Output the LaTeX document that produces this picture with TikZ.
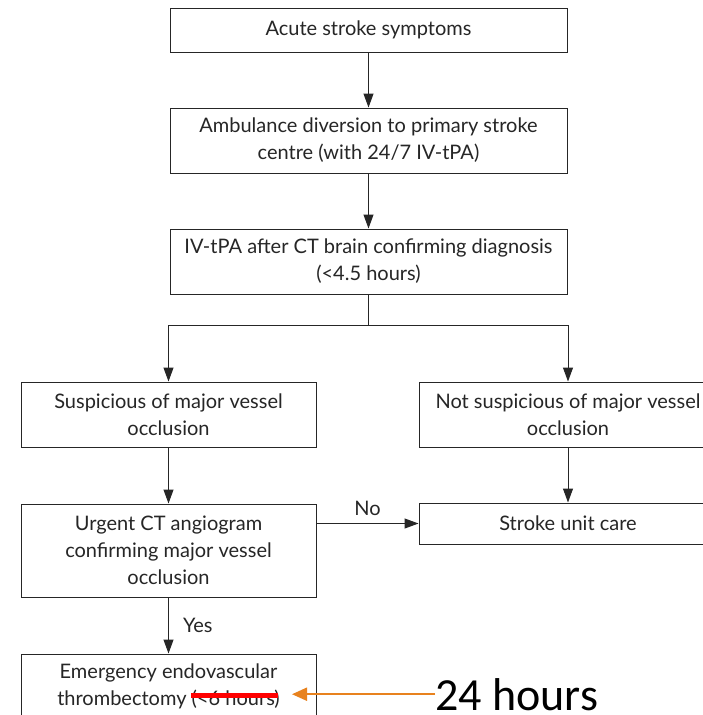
\documentclass[tikz,border=0pt]{standalone}
\usepackage{fontspec}
\setmainfont{Lato}
\newfontfamily\calib{Carlito}
\usetikzlibrary{arrows.meta}
\definecolor{ink}{HTML}{262626}
\definecolor{orng}{HTML}{E8821E}
\begin{document}
\begin{tikzpicture}[x=1pt,y=-1pt,
  box/.style={draw=ink, line width=1pt, text=ink, align=center, inner sep=0pt,
    font=\fontsize{20}{27}\selectfont},
  arr/.style={draw=ink, line width=1pt, -{Triangle[length=14pt,width=10pt]}},
  lbl/.style={text=ink, font=\fontsize{20}{22}\selectfont, inner sep=0pt}]
\useasboundingbox[fill=white] (0,0) rectangle (703,715);
\node[box, minimum width=397pt, minimum height=44pt] (b1) at (368.5,30) {Acute stroke symptoms};
\node[box, minimum width=397pt, minimum height=65pt] (b2) at (368.5,140.5) {Ambulance diversion to primary stroke\\centre (with 24/7 IV-tPA)};
\node[box, minimum width=397pt, minimum height=65pt] (b3) at (368.5,261.5) {IV-tPA after CT brain confirming diagnosis\\(<4.5 hours)};
\node[box, minimum width=295pt, minimum height=65pt] (b4) at (168.5,414.5) {Suspicious of major vessel\\occlusion};
\node[box, minimum width=298pt, minimum height=65pt] (b5) at (568,414.5) {Not suspicious of major vessel\\occlusion};
\node[box, minimum width=295pt, minimum height=93pt] (b6) at (168.5,550.5) {Urgent CT angiogram\\confirming major vessel\\occlusion};
\node[box, minimum width=298pt, minimum height=41pt] (b8) at (568,523.5) {Stroke unit care};
\node[box, minimum width=295pt, minimum height=65pt] (b7) at (168.5,686.5) {Emergency endovascular\\thrombectomy (<6 hours)};
\coordinate (br) at (368.5,325);
\draw[arr] (b1) -- (b2);
\draw[arr] (b2) -- (b3);
\draw[ink, line width=1pt] (b3.south) -- (br);
\draw[arr] (br) -| (b4.north);
\draw[arr] (br) -| (b5.north);
\draw[arr] (b4) -- (b6);
\draw[arr] (b5) -- (b8);
\draw[arr] (b6) -- node[lbl, right=14pt] {Yes} (b7);
\draw[arr] (b8.west -| b6.east) -- node[lbl, above=7pt] {No} (b8.west);
% annotation
\coordinate (s1) at (191,695);
\coordinate (s2) at (278,695);
\draw[red, line width=5pt] (s1) -- (s2);
\coordinate (tip) at (292,697);
\node[anchor=base west, inner sep=0pt, font=\calib\fontsize{46}{50}\selectfont] (h24) at (435,710) {24 hours};
\draw[orng, line width=2pt, -{Triangle[length=15pt,width=13pt]}] (h24.west) -- (h24.west -| tip);
\end{tikzpicture}
\end{document}
